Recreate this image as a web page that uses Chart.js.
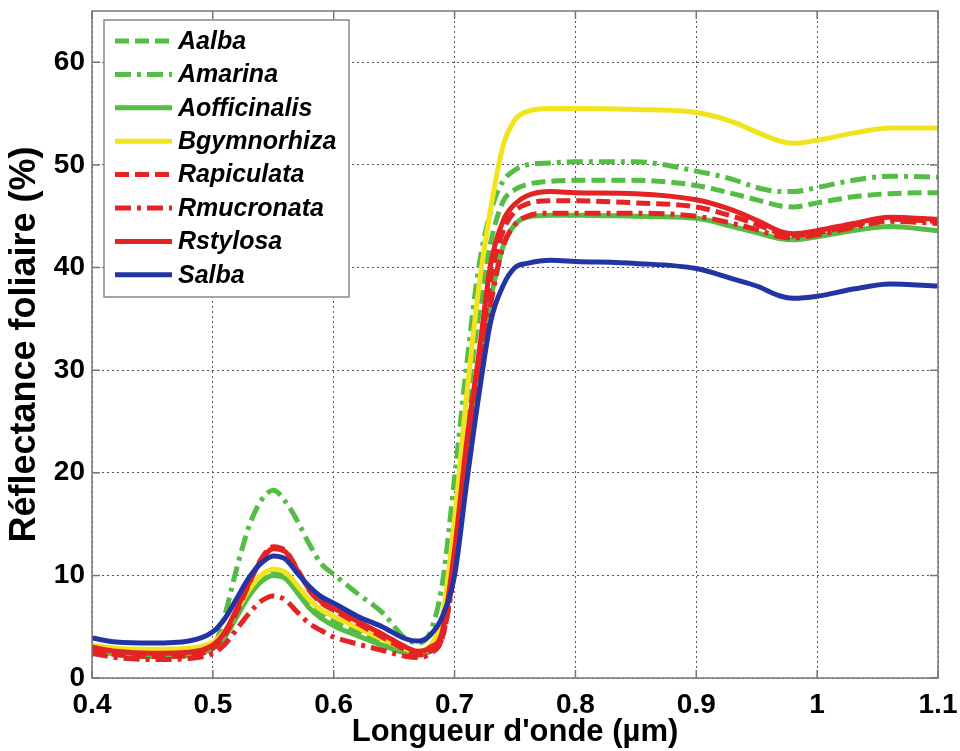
<!DOCTYPE html>
<html>
<head>
<meta charset="utf-8">
<script src="https://cdn.jsdelivr.net/npm/chart.js@4/dist/chart.umd.min.js"></script>
<style>
  html, body { margin: 0; padding: 0; background: #fff; }
  #wrap { width: 960px; height: 751px; }
</style>
</head>
<body>
<div id="wrap"><canvas id="myChart" width="960" height="751"></canvas></div>
<script>
// wavelengths (µm) shared by every spectrum
const wavelengths = [0.40, 0.42, 0.45, 0.48, 0.50, 0.51, 0.52, 0.53, 0.54, 0.55,
  0.56, 0.57, 0.58, 0.59, 0.60, 0.62, 0.64, 0.66, 0.67, 0.68,
  0.69, 0.70, 0.71, 0.72, 0.73, 0.74, 0.75, 0.76, 0.78, 0.80,
  0.85, 0.90, 0.93, 0.95, 0.97, 0.98, 1.00, 1.03, 1.06, 1.10];

const xTicks = [0.4, 0.5, 0.6, 0.7, 0.8, 0.9, 1.0, 1.1];
const yTicks = [0, 10, 20, 30, 40, 50, 60];

const species = ['Aalba', 'Amarina', 'Aofficinalis', 'Bgymnorhiza',
  'Rapiculata', 'Rmucronata', 'Rstylosa', 'Salba'];

// reflectance (%)
const aalba = [2.7, 2.3, 2.1, 2.2, 2.9, 4.2, 6.3, 8.4, 9.8, 10.4,
  10.1, 8.7, 7.2, 6.2, 5.5, 4.4, 3.4, 2.5, 2.3, 2.8,
  5.0, 14.0, 26.0, 35.5, 42.5, 46.4, 47.6, 48.1, 48.4, 48.5,
  48.5, 48.0, 47.2, 46.6, 46.0, 45.9, 46.3, 46.9, 47.2, 47.3];
const amarina = [2.6, 2.2, 2.0, 2.2, 3.0, 6.2, 10.8, 14.8, 17.3, 18.3,
  17.2, 15.3, 13.0, 11.1, 10.1, 8.2, 6.4, 3.8, 3.4, 4.5,
  9.3, 19.5, 30.5, 40.0, 45.5, 48.4, 49.5, 50.0, 50.2, 50.3,
  50.3, 49.4, 48.6, 47.8, 47.4, 47.4, 47.8, 48.5, 48.9, 48.8];
const aofficinalis = [2.8, 2.3, 2.1, 2.2, 2.9, 4.0, 6.0, 8.0, 9.4, 10.0,
  9.7, 8.3, 6.8, 5.8, 5.1, 4.1, 3.2, 2.4, 2.2, 2.7,
  4.5, 11.5, 21.5, 30.5, 37.0, 42.0, 44.2, 44.9, 45.1, 45.1,
  45.0, 44.8, 44.0, 43.4, 42.8, 42.7, 43.0, 43.6, 44.0, 43.6];
const bgymnorhiza = [3.2, 2.9, 2.8, 2.9, 3.5, 4.6, 6.6, 8.6, 10.0, 10.6,
  10.3, 9.0, 7.6, 6.6, 6.0, 4.9, 3.8, 2.8, 2.6, 3.2,
  6.0, 15.5, 27.5, 38.0, 45.8, 51.8, 54.4, 55.2, 55.5, 55.5,
  55.4, 55.1, 54.2, 53.2, 52.3, 52.1, 52.4, 53.1, 53.6, 53.6];
const rapiculata = [2.6, 2.3, 2.1, 2.2, 2.9, 4.2, 6.5, 9.2, 11.6, 12.8,
  12.4, 10.6, 8.5, 7.3, 6.6, 5.3, 4.0, 2.7, 2.3, 2.6,
  4.0, 11.0, 21.5, 30.5, 39.0, 43.5, 45.5, 46.2, 46.5, 46.5,
  46.3, 45.9, 45.0, 44.2, 43.3, 43.1, 43.4, 44.1, 44.7, 44.5];
const rmucronata = [2.4, 2.0, 1.8, 1.9, 2.4, 3.3, 4.8, 6.3, 7.5, 8.0,
  7.6, 6.4, 5.3, 4.6, 4.0, 3.3, 2.7, 2.1, 2.0, 2.4,
  4.0, 10.5, 20.5, 29.5, 36.5, 42.0, 44.2, 45.0, 45.3, 45.3,
  45.3, 45.0, 44.3, 43.7, 43.0, 42.9, 43.2, 43.9, 44.5, 44.3];
const rstylosa = [3.0, 2.6, 2.4, 2.5, 3.2, 4.5, 6.8, 9.3, 11.5, 12.6,
  12.3, 10.5, 8.6, 7.4, 6.8, 5.5, 4.3, 3.0, 2.6, 3.0,
  4.6, 12.5, 23.0, 31.5, 40.4, 44.5, 46.2, 47.0, 47.4, 47.3,
  47.2, 46.6, 45.6, 44.6, 43.5, 43.3, 43.6, 44.3, 44.9, 44.7];
const salba = [3.9, 3.5, 3.4, 3.6, 4.5, 5.8, 7.8, 9.8, 11.2, 11.9,
  11.6, 10.2, 8.9, 7.9, 7.3, 6.0, 5.0, 3.8, 3.6, 4.2,
  6.0, 10.0, 19.0, 27.5, 34.8, 38.2, 40.0, 40.4, 40.7, 40.6,
  40.4, 39.9, 38.9, 38.2, 37.2, 37.0, 37.2, 37.9, 38.4, 38.2];

const seriesValues = [aalba, amarina, aofficinalis, bgymnorhiza,
  rapiculata, rmucronata, rstylosa, salba];

// line styles
const GREEN = '#55bd45', YELLOW = '#f2e41c', RED = '#e42424', BLUE = '#2335a3';
const lineColors = [GREEN, GREEN, GREEN, YELLOW, RED, RED, RED, BLUE];
const DASH = [14, 6], DASHDOT = [16, 6, 4, 6];
const lineDashes = [DASH, DASHDOT, [], [], DASH, DASHDOT, [], []];

const FONT = '"Liberation Sans", Arial, Helvetica, sans-serif';
Chart.defaults.font.family = FONT;
Chart.defaults.color = '#000';

const datasets = species.map((name, i) => ({
  label: name,
  data: wavelengths.map((x, j) => ({ x: x, y: seriesValues[i][j] })),
  borderColor: lineColors[i],
  borderDash: lineDashes[i],
  borderWidth: 5,
  borderCapStyle: 'butt',
  pointRadius: 0,
  fill: false,
  cubicInterpolationMode: 'monotone',
  order: species.length - i
}));

// box around the plot area with inward ticks (matlab style)
const frame = {
  id: 'frame',
  afterDatasetsDraw(chart) {
    const { ctx, chartArea: a, scales } = chart;
    const t = 8;
    ctx.save();
    ctx.strokeStyle = '#777';
    ctx.lineWidth = 1.5;
    ctx.setLineDash([]);
    ctx.strokeRect(a.left, a.top, a.right - a.left, a.bottom - a.top);
    ctx.beginPath();
    xTicks.forEach(v => {
      const px = scales.x.getPixelForValue(v);
      ctx.moveTo(px, a.bottom); ctx.lineTo(px, a.bottom - t);
      ctx.moveTo(px, a.top); ctx.lineTo(px, a.top + t);
    });
    yTicks.forEach(v => {
      const py = scales.y.getPixelForValue(v);
      ctx.moveTo(a.left, py); ctx.lineTo(a.left + t, py);
      ctx.moveTo(a.right, py); ctx.lineTo(a.right - t, py);
    });
    ctx.stroke();
    ctx.restore();
  }
};

// legend box inside the top-left corner
const insideLegend = {
  id: 'insideLegend',
  afterDraw(chart) {
    const { ctx, chartArea: a } = chart;
    const x0 = a.left + 12, y0 = a.top + 9, w = 245, h = 277, row = 33.4;
    ctx.save();
    ctx.fillStyle = '#fff';
    ctx.fillRect(x0, y0, w, h);
    ctx.strokeStyle = '#888';
    ctx.lineWidth = 1.5;
    ctx.strokeRect(x0, y0, w, h);
    chart.data.datasets.forEach((ds, i) => {
      const y = y0 + 21 + i * row;
      ctx.beginPath();
      ctx.setLineDash(ds.borderDash);
      ctx.strokeStyle = ds.borderColor;
      ctx.lineWidth = 5;
      ctx.moveTo(x0 + 11, y);
      ctx.lineTo(x0 + 68, y);
      ctx.stroke();
      ctx.setLineDash([]);
      ctx.fillStyle = '#000';
      ctx.font = 'italic bold 25px ' + FONT;
      ctx.textBaseline = 'middle';
      ctx.fillText(ds.label, x0 + 74, y + 1);
    });
    ctx.restore();
  }
};

const ctx = document.getElementById('myChart').getContext('2d');
const myChart = new Chart(ctx, {
  type: 'line',
  data: { datasets: datasets },
  options: {
    responsive: false,
    animation: false,
    devicePixelRatio: 1,
    layout: { padding: { top: 11, right: 22, left: 0, bottom: 0 } },
    plugins: {
      legend: { display: false },
      tooltip: { enabled: false }
    },
    scales: {
      x: {
        type: 'linear',
        min: 0.4,
        max: 1.1,
        afterBuildTicks: (s) => { s.ticks = xTicks.map(v => ({ value: v })); },
        afterFit: (s) => { s.height = 73; s.paddingLeft = 0; s.paddingRight = 0; },
        ticks: {
          callback: (v) => String(Math.round(v * 10) / 10),
          font: { size: 28, weight: 'bold' },
          color: '#000',
          padding: 10,
          maxRotation: 0,
          autoSkip: false
        },
        grid: { color: '#555', lineWidth: 1, drawTicks: false },
        border: { display: false, dash: [2, 3] },
        title: {
          display: true,
          text: "Longueur d'onde (µm)",
          font: { size: 31, weight: 'bold' },
          color: '#000',
          padding: { top: 0, bottom: 0 }
        }
      },
      y: {
        min: 0,
        max: 65,
        afterBuildTicks: (s) => { s.ticks = yTicks.map(v => ({ value: v })); },
        afterFit: (s) => { s.width = 92; s.paddingTop = 0; s.paddingBottom = 0; },
        ticks: {
          font: { size: 28, weight: 'bold' },
          color: '#000',
          padding: 7
        },
        grid: { color: '#555', lineWidth: 1, drawTicks: false },
        border: { display: false, dash: [2, 3] },
        title: {
          display: true,
          text: 'Réflectance foliaire (%)',
          font: { size: 36, weight: 'bold' },
          color: '#000',
          padding: { top: 3, bottom: 0 }
        }
      }
    }
  },
  plugins: [frame, insideLegend]
});
</script>
</body>
</html>
